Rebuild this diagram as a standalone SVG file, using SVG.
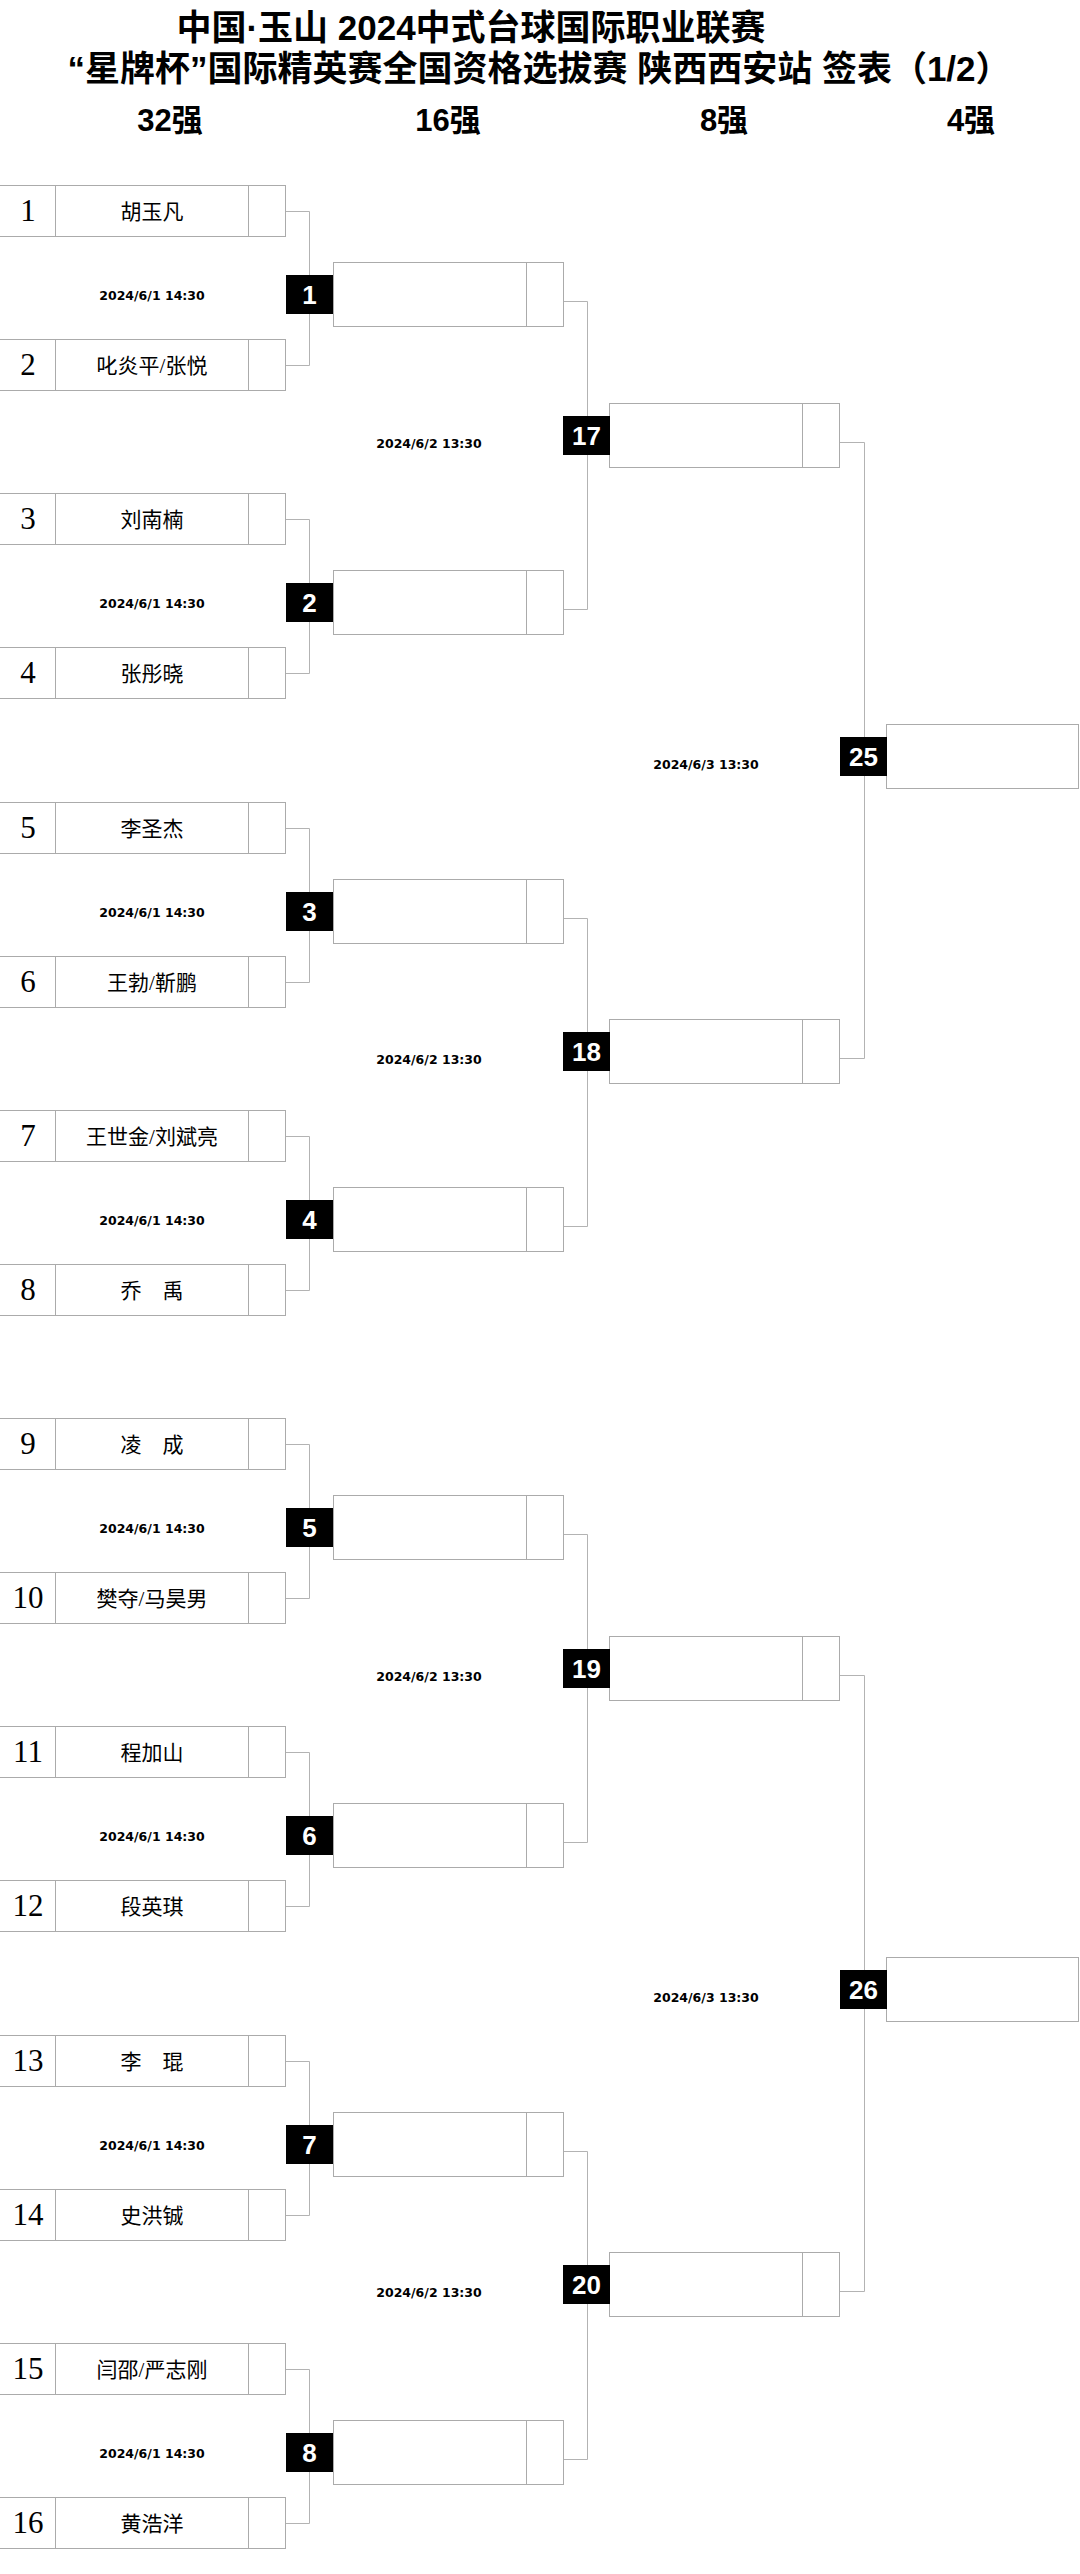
<svg xmlns="http://www.w3.org/2000/svg" width="1080" height="2574" viewBox="0 0 1080 2574">
<style>
.bg{fill:#fff}
.box{fill:#fff;stroke:#ababab;stroke-width:1}
.sep{stroke:#ababab;stroke-width:1;fill:none}
.con{stroke:#b3b3b3;stroke-width:1;fill:none}
.seed{font-family:"Liberation Serif","Noto Sans CJK SC",serif;font-size:31px;text-anchor:middle;fill:#000}
.name{font-family:"Liberation Serif","Noto Sans CJK SC",serif;font-size:21px;text-anchor:middle;fill:#000}
.date{font-family:"DejaVu Sans",sans-serif;font-weight:bold;font-size:12.5px;text-anchor:middle;fill:#000}
.blk{fill:#000}
.num{font-family:"Liberation Sans",sans-serif;font-weight:bold;font-size:26px;fill:#fff;text-anchor:middle}
.title{font-family:"Liberation Sans","Noto Sans CJK SC",sans-serif;font-weight:bold;font-size:35px;text-anchor:middle;fill:#000}
.head{font-family:"Liberation Sans","Noto Sans CJK SC",sans-serif;font-weight:bold;font-size:31px;text-anchor:middle;fill:#000}
</style>
<rect class="bg" x="0" y="0" width="1080" height="2574"/>
<g id="header">
<text class="title" x="471" y="40">中国·玉山 2024中式台球国际职业联赛</text>
<text class="title" x="539" y="81">“星牌杯”国际精英赛全国资格选拔赛 陕西西安站 签表（1/2）</text>
<text class="head" x="170" y="131">32强</text>
<text class="head" x="448" y="131">16强</text>
<text class="head" x="724" y="131">8强</text>
<text class="head" x="971" y="131">4强</text>
</g>
<g id="connectors">
<path class="con" d="M285.5 211.5H309.5V365.5H285.5M285.5 519.5H309.5V673.5H285.5M285.5 828.5H309.5V982.5H285.5M285.5 1136.5H309.5V1290.5H285.5M285.5 1444.5H309.5V1598.5H285.5M285.5 1752.5H309.5V1906.5H285.5M285.5 2061.5H309.5V2215.5H285.5M285.5 2369.5H309.5V2523.5H285.5"/>
<path class="con" d="M563.5 301.5H587.5V609.5H563.5M563.5 918.5H587.5V1226.5H563.5M563.5 1534.5H587.5V1842.5H563.5M563.5 2151.5H587.5V2459.5H563.5"/>
<path class="con" d="M839.5 442.5H864.5V1058.5H839.5M839.5 1675.5H864.5V2291.5H839.5"/>
</g>
<g id="p1"><rect class="box" x="-1" y="185.5" width="286.5" height="51"/><path class="sep" d="M55.5 185.5V236.5M248.5 185.5V236.5"/><text class="seed" x="28" y="221">1</text><text class="name" x="152" y="218.5">胡玉凡</text></g>
<g id="p2"><rect class="box" x="-1" y="339.5" width="286.5" height="51"/><path class="sep" d="M55.5 339.5V390.5M248.5 339.5V390.5"/><text class="seed" x="28" y="375">2</text><text class="name" x="152" y="372.5">叱炎平/张悦</text></g>
<g id="p3"><rect class="box" x="-1" y="493.5" width="286.5" height="51"/><path class="sep" d="M55.5 493.5V544.5M248.5 493.5V544.5"/><text class="seed" x="28" y="529">3</text><text class="name" x="152" y="526.5">刘南楠</text></g>
<g id="p4"><rect class="box" x="-1" y="647.5" width="286.5" height="51"/><path class="sep" d="M55.5 647.5V698.5M248.5 647.5V698.5"/><text class="seed" x="28" y="683">4</text><text class="name" x="152" y="680.5">张彤晓</text></g>
<g id="p5"><rect class="box" x="-1" y="802.5" width="286.5" height="51"/><path class="sep" d="M55.5 802.5V853.5M248.5 802.5V853.5"/><text class="seed" x="28" y="838">5</text><text class="name" x="152" y="835.5">李圣杰</text></g>
<g id="p6"><rect class="box" x="-1" y="956.5" width="286.5" height="51"/><path class="sep" d="M55.5 956.5V1007.5M248.5 956.5V1007.5"/><text class="seed" x="28" y="992">6</text><text class="name" x="152" y="989.5">王勃/靳鹏</text></g>
<g id="p7"><rect class="box" x="-1" y="1110.5" width="286.5" height="51"/><path class="sep" d="M55.5 1110.5V1161.5M248.5 1110.5V1161.5"/><text class="seed" x="28" y="1146">7</text><text class="name" x="152" y="1143.5">王世金/刘斌亮</text></g>
<g id="p8"><rect class="box" x="-1" y="1264.5" width="286.5" height="51"/><path class="sep" d="M55.5 1264.5V1315.5M248.5 1264.5V1315.5"/><text class="seed" x="28" y="1300">8</text><text class="name" x="152" y="1297.5">乔　禹</text></g>
<g id="p9"><rect class="box" x="-1" y="1418.5" width="286.5" height="51"/><path class="sep" d="M55.5 1418.5V1469.5M248.5 1418.5V1469.5"/><text class="seed" x="28" y="1454">9</text><text class="name" x="152" y="1451.5">凌　成</text></g>
<g id="p10"><rect class="box" x="-1" y="1572.5" width="286.5" height="51"/><path class="sep" d="M55.5 1572.5V1623.5M248.5 1572.5V1623.5"/><text class="seed" x="28" y="1608">10</text><text class="name" x="152" y="1605.5">樊夺/马昊男</text></g>
<g id="p11"><rect class="box" x="-1" y="1726.5" width="286.5" height="51"/><path class="sep" d="M55.5 1726.5V1777.5M248.5 1726.5V1777.5"/><text class="seed" x="28" y="1762">11</text><text class="name" x="152" y="1759.5">程加山</text></g>
<g id="p12"><rect class="box" x="-1" y="1880.5" width="286.5" height="51"/><path class="sep" d="M55.5 1880.5V1931.5M248.5 1880.5V1931.5"/><text class="seed" x="28" y="1916">12</text><text class="name" x="152" y="1913.5">段英琪</text></g>
<g id="p13"><rect class="box" x="-1" y="2035.5" width="286.5" height="51"/><path class="sep" d="M55.5 2035.5V2086.5M248.5 2035.5V2086.5"/><text class="seed" x="28" y="2071">13</text><text class="name" x="152" y="2068.5">李　琨</text></g>
<g id="p14"><rect class="box" x="-1" y="2189.5" width="286.5" height="51"/><path class="sep" d="M55.5 2189.5V2240.5M248.5 2189.5V2240.5"/><text class="seed" x="28" y="2225">14</text><text class="name" x="152" y="2222.5">史洪铖</text></g>
<g id="p15"><rect class="box" x="-1" y="2343.5" width="286.5" height="51"/><path class="sep" d="M55.5 2343.5V2394.5M248.5 2343.5V2394.5"/><text class="seed" x="28" y="2379">15</text><text class="name" x="152" y="2376.5">闫邵/严志刚</text></g>
<g id="p16"><rect class="box" x="-1" y="2497.5" width="286.5" height="51"/><path class="sep" d="M55.5 2497.5V2548.5M248.5 2497.5V2548.5"/><text class="seed" x="28" y="2533">16</text><text class="name" x="152" y="2530.5">黄浩洋</text></g>
<g id="m1"><text class="date" x="152" y="300">2024/6/1 14:30</text><rect class="box" x="333.5" y="262.5" width="230" height="64"/><path class="sep" d="M526.5 262.5V326.5"/><rect class="blk" x="286" y="275" width="47" height="39"/><text class="num" x="309.5" y="304">1</text></g>
<g id="m2"><text class="date" x="152" y="608">2024/6/1 14:30</text><rect class="box" x="333.5" y="570.5" width="230" height="64"/><path class="sep" d="M526.5 570.5V634.5"/><rect class="blk" x="286" y="583" width="47" height="39"/><text class="num" x="309.5" y="612">2</text></g>
<g id="m3"><text class="date" x="152" y="917">2024/6/1 14:30</text><rect class="box" x="333.5" y="879.5" width="230" height="64"/><path class="sep" d="M526.5 879.5V943.5"/><rect class="blk" x="286" y="892" width="47" height="39"/><text class="num" x="309.5" y="921">3</text></g>
<g id="m4"><text class="date" x="152" y="1225">2024/6/1 14:30</text><rect class="box" x="333.5" y="1187.5" width="230" height="64"/><path class="sep" d="M526.5 1187.5V1251.5"/><rect class="blk" x="286" y="1200" width="47" height="39"/><text class="num" x="309.5" y="1229">4</text></g>
<g id="m5"><text class="date" x="152" y="1533">2024/6/1 14:30</text><rect class="box" x="333.5" y="1495.5" width="230" height="64"/><path class="sep" d="M526.5 1495.5V1559.5"/><rect class="blk" x="286" y="1508" width="47" height="39"/><text class="num" x="309.5" y="1537">5</text></g>
<g id="m6"><text class="date" x="152" y="1841">2024/6/1 14:30</text><rect class="box" x="333.5" y="1803.5" width="230" height="64"/><path class="sep" d="M526.5 1803.5V1867.5"/><rect class="blk" x="286" y="1816" width="47" height="39"/><text class="num" x="309.5" y="1845">6</text></g>
<g id="m7"><text class="date" x="152" y="2150">2024/6/1 14:30</text><rect class="box" x="333.5" y="2112.5" width="230" height="64"/><path class="sep" d="M526.5 2112.5V2176.5"/><rect class="blk" x="286" y="2125" width="47" height="39"/><text class="num" x="309.5" y="2154">7</text></g>
<g id="m8"><text class="date" x="152" y="2458">2024/6/1 14:30</text><rect class="box" x="333.5" y="2420.5" width="230" height="64"/><path class="sep" d="M526.5 2420.5V2484.5"/><rect class="blk" x="286" y="2433" width="47" height="39"/><text class="num" x="309.5" y="2462">8</text></g>
<g id="m17"><text class="date" x="429" y="448">2024/6/2 13:30</text><rect class="box" x="609.5" y="403.5" width="230" height="64"/><path class="sep" d="M802.5 403.5V467.5"/><rect class="blk" x="563" y="416" width="47" height="39"/><text class="num" x="586.5" y="445">17</text></g>
<g id="m18"><text class="date" x="429" y="1064">2024/6/2 13:30</text><rect class="box" x="609.5" y="1019.5" width="230" height="64"/><path class="sep" d="M802.5 1019.5V1083.5"/><rect class="blk" x="563" y="1032" width="47" height="39"/><text class="num" x="586.5" y="1061">18</text></g>
<g id="m19"><text class="date" x="429" y="1681">2024/6/2 13:30</text><rect class="box" x="609.5" y="1636.5" width="230" height="64"/><path class="sep" d="M802.5 1636.5V1700.5"/><rect class="blk" x="563" y="1649" width="47" height="39"/><text class="num" x="586.5" y="1678">19</text></g>
<g id="m20"><text class="date" x="429" y="2297">2024/6/2 13:30</text><rect class="box" x="609.5" y="2252.5" width="230" height="64"/><path class="sep" d="M802.5 2252.5V2316.5"/><rect class="blk" x="563" y="2265" width="47" height="39"/><text class="num" x="586.5" y="2294">20</text></g>
<g id="m25"><text class="date" x="706" y="769">2024/6/3 13:30</text><rect class="box" x="886.5" y="724.5" width="192" height="64"/><rect class="blk" x="840" y="737" width="47" height="39"/><text class="num" x="863.5" y="766">25</text></g>
<g id="m26"><text class="date" x="706" y="2002">2024/6/3 13:30</text><rect class="box" x="886.5" y="1957.5" width="192" height="64"/><rect class="blk" x="840" y="1970" width="47" height="39"/><text class="num" x="863.5" y="1999">26</text></g>
</svg>
